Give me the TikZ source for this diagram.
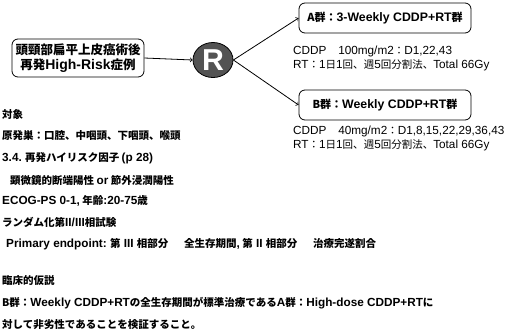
\documentclass[tikz,border=0pt]{standalone}
\usepackage{fontspec}
\setmainfont{Noto Sans CJK JP}
\newfontfamily\latinfont[Scale=1.12]{Liberation Sans}
\newcommand\en[1]{{\latinfont #1}}
\usetikzlibrary{shapes.geometric}

\tikzset{
  armbox/.style={draw, thick, rounded corners=6pt, font=\bfseries\fontsize{11}{13}\selectfont},
  dose/.style={anchor=west, inner sep=0pt, align=left, font=\fontsize{10.5}{14}\selectfont},
  item/.style={anchor=west, inner sep=0pt, font=\bfseries\fontsize{10.5}{12}\selectfont}
}

\begin{document}
\begin{tikzpicture}[x=1pt,y=-1pt]
\useasboundingbox (0,0) rectangle (513,335);

\node[armbox, minimum width=132pt, minimum height=38pt, align=center, font=\bfseries\fontsize{12.5}{15}\selectfont] at (78,58) (case){頭頸部扁平上皮癌術後\\再発\en{High-Risk}症例};
\node[draw, thick, ellipse, fill=gray!65!black, minimum width=40pt, minimum height=35pt, inner sep=0pt, text=white, font=\latinfont\bfseries\fontsize{27}{27}\selectfont] at (213,60) (rand){R};

\node[armbox, minimum width=172pt, minimum height=30pt] at (385,18) (armA){A群：\en{3-Weekly CDDP+RT}群};
\node[armbox, minimum width=172pt, minimum height=30pt] at (385,105) (armB){B群：\en{Weekly CDDP+RT}群};

% randomisation
\draw[->,thick] (case.east) -- (rand.west);
\draw[->,thick] (rand.east) -- (armA.west);
\draw[->,thick] (rand.east) -- (armB.west);

% regimens
\node[dose] at (293,58) (doseA){\en{CDDP\quad 100mg/m2}：\en{D1,22,43}\\\en{RT}：\en{1}日\en{1}回、週\en{5}回分割法、\en{Total 66Gy}};
\node[dose] at (293,138) (doseB){\en{CDDP\quad 40mg/m2}：\en{D1,8,15,22,29,36,43}\\\en{RT}：\en{1}日\en{1}回、週\en{5}回分割法、\en{Total 66Gy}};

% eligibility and design
\node[item] at (2,115) (l1){対象};
\node[item] at (2,136) (l2){原発巣：口腔、中咽頭、下咽頭、喉頭};
\node[item] at (2,158) (l3){\en{3.4.} 再発ハイリスク因子 \en{(p 28)}};
\node[item] at (10,180) (l4){顕微鏡的断端陽性 \en{or} 節外浸潤陽性};
\node[item] at (2,201) (l5){\en{ECOG-PS 0-1,} 年齢\en{:20-75}歳};
\node[item] at (2,222) (l6){ランダム化第\en{II/III}相試験};
\node[item] at (6,244) (l7){\en{Primary endpoint:} 第\en{ III }相部分\hspace{1.5em}全生存期間\en{,} 第\en{ II }相部分\hspace{1.5em}治療完遂割合};
\node[item] at (2,281) (l8){臨床的仮説};
\node[item] at (2,303) (l9){B群：\en{Weekly CDDP+RT}の全生存期間が標準治療である\en{A}群：\en{High-dose CDDP+RT}に};
\node[item] at (2,325) (l10){対して非劣性であることを検証すること。};

\end{tikzpicture}
\end{document}
